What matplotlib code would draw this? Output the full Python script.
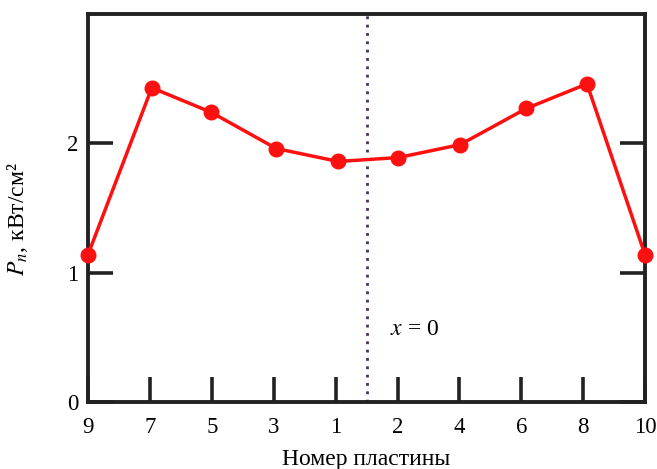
import matplotlib.pyplot as plt

plt.rcParams['font.family'] = ['Liberation Serif', 'DejaVu Serif']
plt.rcParams['mathtext.fontset'] = 'stix'

# plate numbers in the order they sit along the axis
plates = ["9", "7", "5", "3", "1", "2", "4", "6", "8", "10"]
# measured marker positions (slightly off the tick marks in the original)
plate_pos = [0.0, 1.03, 1.99, 3.04, 4.04, 5.01, 6.01, 7.08, 8.06, 9.0]
power = [1.14, 2.43, 2.24, 1.96, 1.86, 1.89, 1.99, 2.27, 2.46, 1.135]
center_pos = 4.5  # x = 0

fig = plt.figure(figsize=(6.57, 4.69), dpi=100)
ax = fig.add_axes([0.134, 0.143, 0.848, 0.827])

ax.plot(plate_pos, power, color="#ff1010", lw=2.5, marker="o", ms=10.5,
        clip_on=False, zorder=3)
ax.axvline(center_pos, color="#4a2e5e", lw=2, ls=(0, (1, 2)), zorder=2)
ax.text(center_pos + 0.38, 0.56, "$x$ = 0", fontsize=17, va="center")

ax.set_xlim(0, 9)
ax.set_ylim(0, 3)
ax.set_xticks(range(len(plates)))
ax.set_xticklabels(plates)
ax.set_yticks([0, 1, 2])

for s in ax.spines.values():
    s.set_linewidth(2.8)
    s.set_color("#222222")

ax.tick_params(direction="in", length=18, width=2.6, color="#222222",
               labelsize=16.5, pad=11)
ax.tick_params(axis="y", right=True, pad=7)

ax.set_xlabel("Номер пластины", fontsize=17, labelpad=8)
ax.set_ylabel("$P_n$, кВт/см²", fontsize=17)
ax.yaxis.set_label_coords(-0.104, 0.47)

plt.savefig("out.png", dpi=100)
